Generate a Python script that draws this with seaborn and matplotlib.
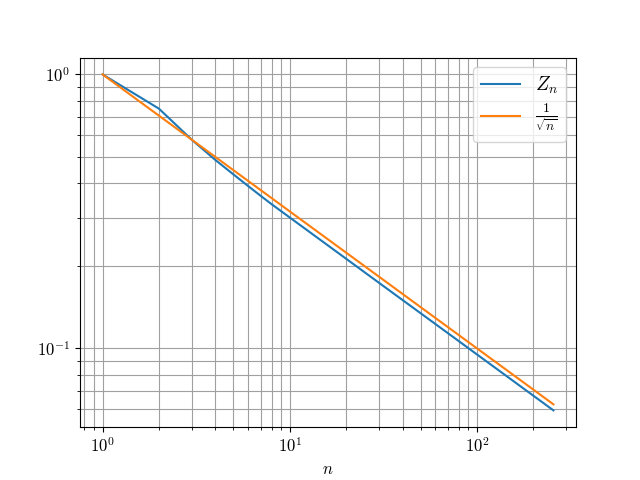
import math
import matplotlib
matplotlib.use("Agg")
import matplotlib.pyplot as plt
import matplotlib.ticker as mticker
import seaborn as sns
import pandas as pd

n_values = [1, 2, 3, 4, 5, 6, 7, 8, 10, 16, 32, 64, 128, 256]
z_values = [1.0, 0.75, 0.577, 0.4875, 0.4316, 0.3911, 0.3602, 0.3359,
            0.3004, 0.2375, 0.1679, 0.1188, 0.0840, 0.0594]
inv_sqrt_values = [1.0, 0.7071, 0.5774, 0.5, 0.4472, 0.4082, 0.3780, 0.3536,
                   0.3162, 0.25, 0.1768, 0.125, 0.0884, 0.0625]

plt.rcParams['mathtext.fontset'] = 'cm'
plt.rcParams['font.family'] = 'serif'
plt.rcParams['font.serif'] = ['DejaVu Serif']

df = pd.DataFrame({"n": n_values, "Z": z_values, "inv": inv_sqrt_values})

fig, ax = plt.subplots(figsize=(6.4, 4.8), dpi=100)
sns.lineplot(data=df, x="n", y="Z", ax=ax, color="C0", label=r"$Z_n$")
sns.lineplot(data=df, x="n", y="inv", ax=ax, color="C1", label=r"$\frac{1}{\sqrt{n}}$")
ax.set_xscale("log")
ax.set_yscale("log")
ax.grid(True, which="both", color="#a0a0a0", linewidth=0.8)

fmt = mticker.FuncFormatter(lambda v, p: r"$10^{%d}$" % round(math.log10(v)))
ax.xaxis.set_major_formatter(fmt)
ax.yaxis.set_major_formatter(fmt)
ax.xaxis.set_minor_formatter(mticker.NullFormatter())
ax.yaxis.set_minor_formatter(mticker.NullFormatter())
ax.tick_params(labelsize=12)
ax.set_xlabel(r"$n$", fontsize=12)
ax.set_ylabel("")
ax.legend(loc="upper right", fontsize=14, labelspacing=0.3)
fig.savefig("out.png", dpi=100)
